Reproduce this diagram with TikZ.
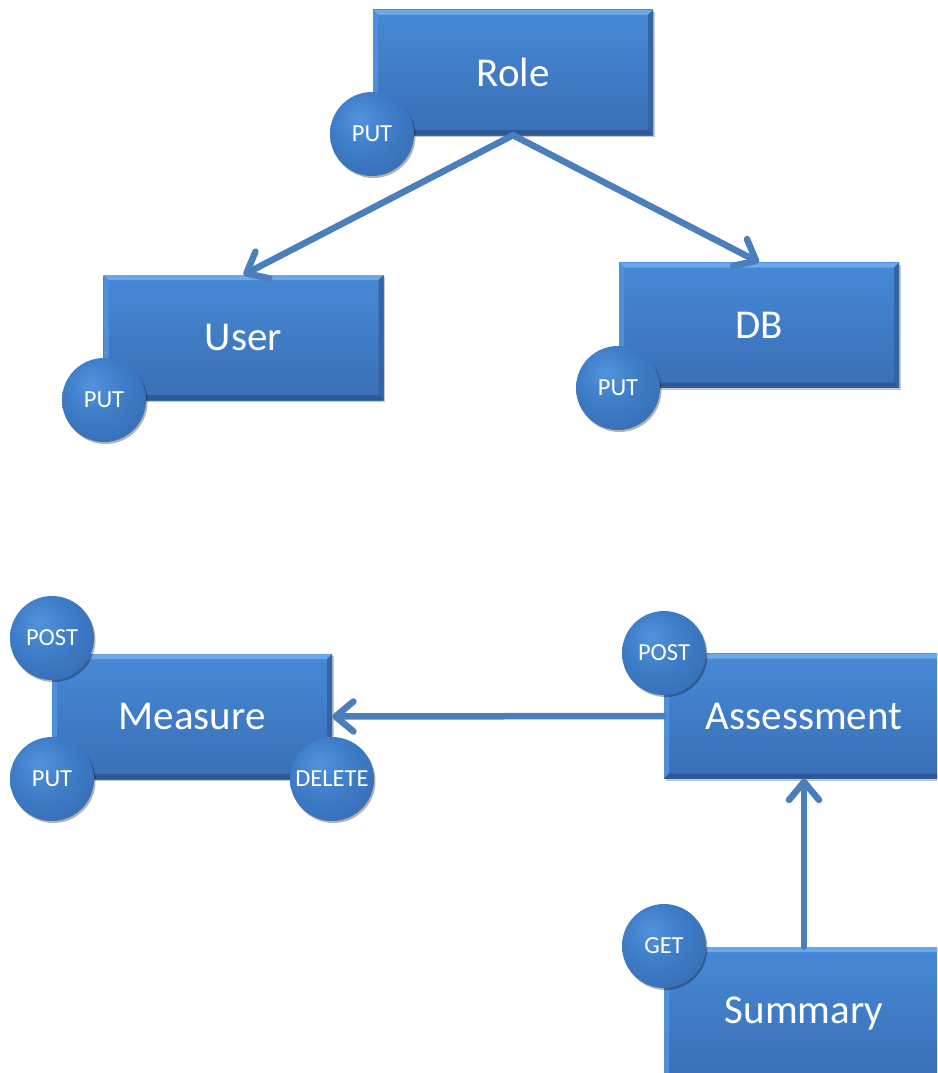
\documentclass[tikz,border=0pt]{standalone}
\usepackage{fontspec}
\setmainfont{Carlito}
\usetikzlibrary{arrows.meta,shadows}

\definecolor{boxtop}{HTML}{4689D6}
\definecolor{boxbot}{HTML}{3A6FB6}
\definecolor{bevtop}{HTML}{6DA8EA}
\definecolor{bevleft}{HTML}{4F90DB}
\definecolor{bevright}{HTML}{3464A8}
\definecolor{bevbot}{HTML}{2C5894}
\definecolor{discA}{HTML}{5393DD}
\definecolor{discB}{HTML}{3F7EC9}
\definecolor{discC}{HTML}{3569B0}
\definecolor{discD}{HTML}{29538D}
\definecolor{link}{HTML}{4A7EBD}

\pgfdeclareradialshading{disc}{\pgfpoint{-8bp}{10bp}}{%
  color(0bp)=(discA); color(16bp)=(discB); color(40bp)=(discC); color(56bp)=(discD); color(70bp)=(discD)}

\tikzset{
  resource/.style={
    rectangle, minimum width=280pt, minimum height=125pt, inner sep=0pt,
    text=white, font=\fontsize{41}{41}\selectfont,
    top color=boxtop, bottom color=boxbot,
    general shadow={shadow xshift=1.5pt, shadow yshift=-2pt, fill=black, opacity=0.22},
    path picture={
      \coordinate (pnw) at (path picture bounding box.north west);
      \coordinate (pne) at (path picture bounding box.north east);
      \coordinate (psw) at (path picture bounding box.south west);
      \coordinate (pse) at (path picture bounding box.south east);
      \fill[bevtop] (pnw) -- (pne) -- ([xshift=-5pt,yshift=-5pt]pne) -- ([xshift=5pt,yshift=-5pt]pnw) -- cycle;
      \fill[bevleft] (pnw) -- ([xshift=5pt,yshift=-5pt]pnw) -- ([xshift=5pt,yshift=5pt]psw) -- (psw) -- cycle;
      \fill[bevright] (pne) -- ([xshift=-5pt,yshift=-5pt]pne) -- ([xshift=-5pt,yshift=5pt]pse) -- (pse) -- cycle;
      \fill[bevbot] (psw) -- ([xshift=5pt,yshift=5pt]psw) -- ([xshift=-5pt,yshift=5pt]pse) -- (pse) -- cycle;
    }
  },
  verb/.style={
    circle, minimum size=84pt, inner sep=0pt,
    text=white, font=\fontsize{24.5}{24.5}\selectfont,
    shading=disc,
    general shadow={shadow xshift=1.5pt, shadow yshift=-2pt, fill=black, opacity=0.3}
  },
  link arrow/.style={
    draw=link, line width=6.5pt, line cap=round,
    -{Straight Barb[length=18pt, width=30pt, round]}
  }
}

\begin{document}
\begin{tikzpicture}[x=1pt, y=-1pt]
  \useasboundingbox (0,0) rectangle (937,1073);
  \clip (0,0) rectangle (937,1073);

  % resource boxes
  \node[resource] (role)    at (513,72.5)   {Role};
  \node[resource] (user)    at (243.5,337.5) {User};
  \node[resource] (db)      at (759,325)    {DB};
  \node[resource] (measure) at (192,716.5)  {Measure};
  \node[resource] (assess)  at (804,716)    {Assessment};
  \node[resource, minimum height=132pt] (summary) at (804,1013) {Summary};

  % relations between resources
  \draw[link arrow] (role.south) -- (user.north);
  \draw[link arrow] (role.south) -- (db.north);
  \draw[link arrow] (assess.west) -- (measure.east);
  \draw[link arrow] (summary.north) -- (assess.south);

  % HTTP methods attached to the boxes
  \node[verb] (roleput)    at (372,134)  {PUT};
  \node[verb] (userput)    at (104,400)  {PUT};
  \node[verb] (dbput)      at (618,388)  {PUT};
  \node[verb] (measpost)   at (52,638)   {POST};
  \node[verb] (measput)    at (52,779)   {PUT};
  \node[verb] (measdelete) at (332,779)  {DELETE};
  \node[verb] (assesspost) at (664,653)  {POST};
  \node[verb] (summaryget) at (664,946)  {GET};
\end{tikzpicture}
\end{document}
